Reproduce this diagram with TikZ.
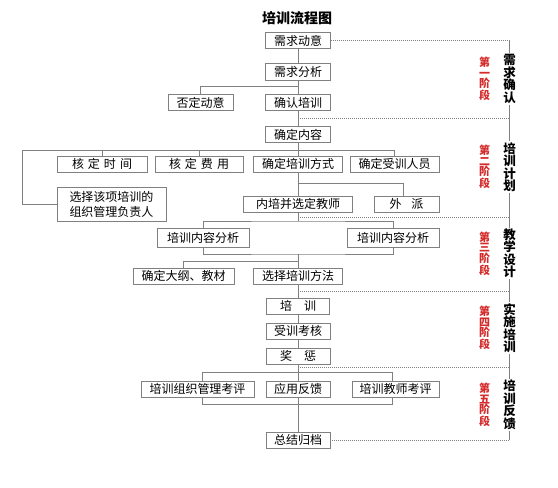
\documentclass[tikz,border=0pt]{standalone}
\usepackage{fontspec}
\setmainfont{Noto Sans CJK SC}
\usepackage{tikz}
\definecolor{linegray}{HTML}{808080}
\definecolor{stagered}{HTML}{D42A2A}
\newcommand{\kg}{\hspace{4pt}}

\begin{document}
\begin{tikzpicture}[x=1pt,y=-1pt,
  box/.style={draw=linegray,line width=0.8pt,fill=white,inner sep=1pt,
    minimum height=16.5pt,font=\fontsize{12}{15}\selectfont},
  link/.style={draw=linegray,line width=0.8pt},
  stagesep/.style={draw=linegray,line width=0.7pt,dash pattern=on 1pt off 1pt},
  stagename/.style={fill=white,inner sep=1pt,align=center,text width=13pt,
    font=\fontsize{12.5}{12.5}\selectfont\bfseries},
  stageno/.style={inner sep=0pt,align=center,text width=12pt,text=stagered,
    font=\fontsize{11}{10.6}\selectfont\bfseries}]
  \useasboundingbox (0,0) rectangle (558,488);
  \node[font=\fontsize{14}{16}\selectfont\bfseries] (title) at (297,18) {培训流程图};
  % main column
  \node[box,minimum width=65pt] (xq) at (298,40.5) {需求动意};
  \node[box,minimum width=65pt] (fx) at (298,72) {需求分析};
  \node[box,minimum width=65pt] (qr) at (298,102.5) {确认培训};
  \node[box,minimum width=65pt] (fd) at (200.5,102.5) {否定动意};
  \node[box,minimum width=65pt] (nr) at (298,134.5) {确定内容};
  \node[box,minimum width=90pt,minimum height=16pt] (sj) at (102,164) {核\kg 定\kg 时\kg 间};
  \node[box,minimum width=88pt,minimum height=16pt] (fy) at (199,164) {核\kg 定\kg 费\kg 用};
  \node[box,minimum width=89pt,minimum height=16pt] (fs) at (298,164) {确定培训方式};
  \node[box,minimum width=89pt,minimum height=16pt] (ry) at (394.5,164) {确定受训人员};
  \node[box,minimum width=109pt,minimum height=34pt,align=left] (fzr) at (111.5,204) {选择该项培训的\\组织管理负责人};
  \node[box,minimum width=109pt,minimum height=16pt] (jsh) at (298,204) {内培并选定教师};
  \node[box,minimum width=65pt,minimum height=16pt] (wp) at (406.5,204) {外\hspace{10pt}派};
  \node[box,minimum width=92pt,minimum height=19pt] (fxa) at (203,237.5) {培训内容分析};
  \node[box,minimum width=92pt,minimum height=19pt] (fxb) at (393,237.5) {培训内容分析};
  \node[box,minimum width=101pt,minimum height=16pt] (dg) at (183.5,276) {确定大纲、教材};
  \node[box,minimum width=89pt,minimum height=16pt] (ff) at (298,276) {选择培训方法};
  \node[box,minimum width=63pt,minimum height=16pt] (px) at (298,306) {培\hspace{12pt}训};
  \node[box,minimum width=64pt,minimum height=16pt] (kh) at (298,331) {受训考核};
  \node[box,minimum width=64pt,minimum height=16pt] (jc) at (298,356) {奖\hspace{12pt}惩};
  \node[box,minimum width=113pt,minimum height=16pt] (zz) at (197.5,389) {培训组织管理考评};
  \node[box,minimum width=64pt,minimum height=16pt] (yy) at (298,389) {应用反馈};
  \node[box,minimum width=87pt,minimum height=16pt] (js) at (395.5,389) {培训教师考评};
  \node[box,minimum width=64pt,minimum height=16pt] (gd) at (298,440) {总结归档};
  % branch points
  \coordinate (lft) at (22,150);
  \coordinate (b3) at (298,221);
  \coordinate (b4) at (298,254);
  \coordinate (b5) at (298,261);
  \coordinate (b6l) at (202,372);
  \coordinate (b6r) at (392,372);
  \coordinate (b7l) at (202,404);
  \coordinate (b7r) at (392,404);
  \coordinate (rx) at (509,0);
  % connectors
  \draw[link] (xq) -- (fx);
  \draw[link] (fx) -- (qr);
  \draw[link] (qr) -- (nr);
  \draw[link] (fd.north) -- ++(0,-7.5) -| (qr.north);
  \draw[link] (nr) -- (fs);
  \draw[link] (fzr.west) -| (lft) -- (lft -| ry.north) -- (ry.north);
  \draw[link] (sj.north) -- (sj.north |- lft);
  \draw[link] (fy.north) -- (fy.north |- lft);
  \draw[link] (fs) -- (jsh);
  \draw[link] (wp.north) ++(-3.5,0) -- ++(0,-12) -| (fs.south);
  \draw[link] (jsh.south) -- (b3);
  \draw[link] (fxa.north) |- (b3) -| (fxb.north);
  \draw[link] (fxa.south) |- (b4) -| (fxb.south);
  \draw[link] (b4) -- (ff.north);
  \draw[link] (dg.north) |- (b5);
  \draw[link] (ff) -- (px);
  \draw[link] (px) -- (kh);
  \draw[link] (kh) -- (jc);
  \draw[link] (jc) -- (yy);
  \draw[link] (zz.north -| b6l) -- (b6l) -- (b6r) -- (js.north -| b6r);
  \draw[link] (zz.south -| b7l) -- (b7l) -- (b7r) -- (js.south -| b7r);
  \draw[link] (yy) -- (gd);
  % stage separators
  \draw[stagesep] (xq.east) -- (xq.east -| rx);
  \foreach \y in {118,217,291,367}
    \draw[stagesep] (298,\y) -- (rx |- 0,\y);
  \draw[stagesep] (gd.east) -- (gd.east -| rx);
  \draw[link,line width=0.7pt] (xq.east -| rx) -- (gd.east -| rx);
  % stage labels
  \foreach \y/\no/\name [count=\i] in {79/{第\\一\\阶\\段}/{需\\求\\确\\认},
      167/{第\\二\\阶\\段}/{培\\训\\计\\划},
      253.5/{第\\三\\阶\\段}/{教\\学\\设\\计},
      328/{第\\四\\阶\\段}/{实\\施\\培\\训},
      405/{第\\五\\阶\\段}/{培\\训\\反\\馈}} {
    \node[stageno] (no\i) at (484.5,\y) {\no};
    \node[stagename] (st\i) at (509.5,\y) {\name};
  }
\end{tikzpicture}
\end{document}
